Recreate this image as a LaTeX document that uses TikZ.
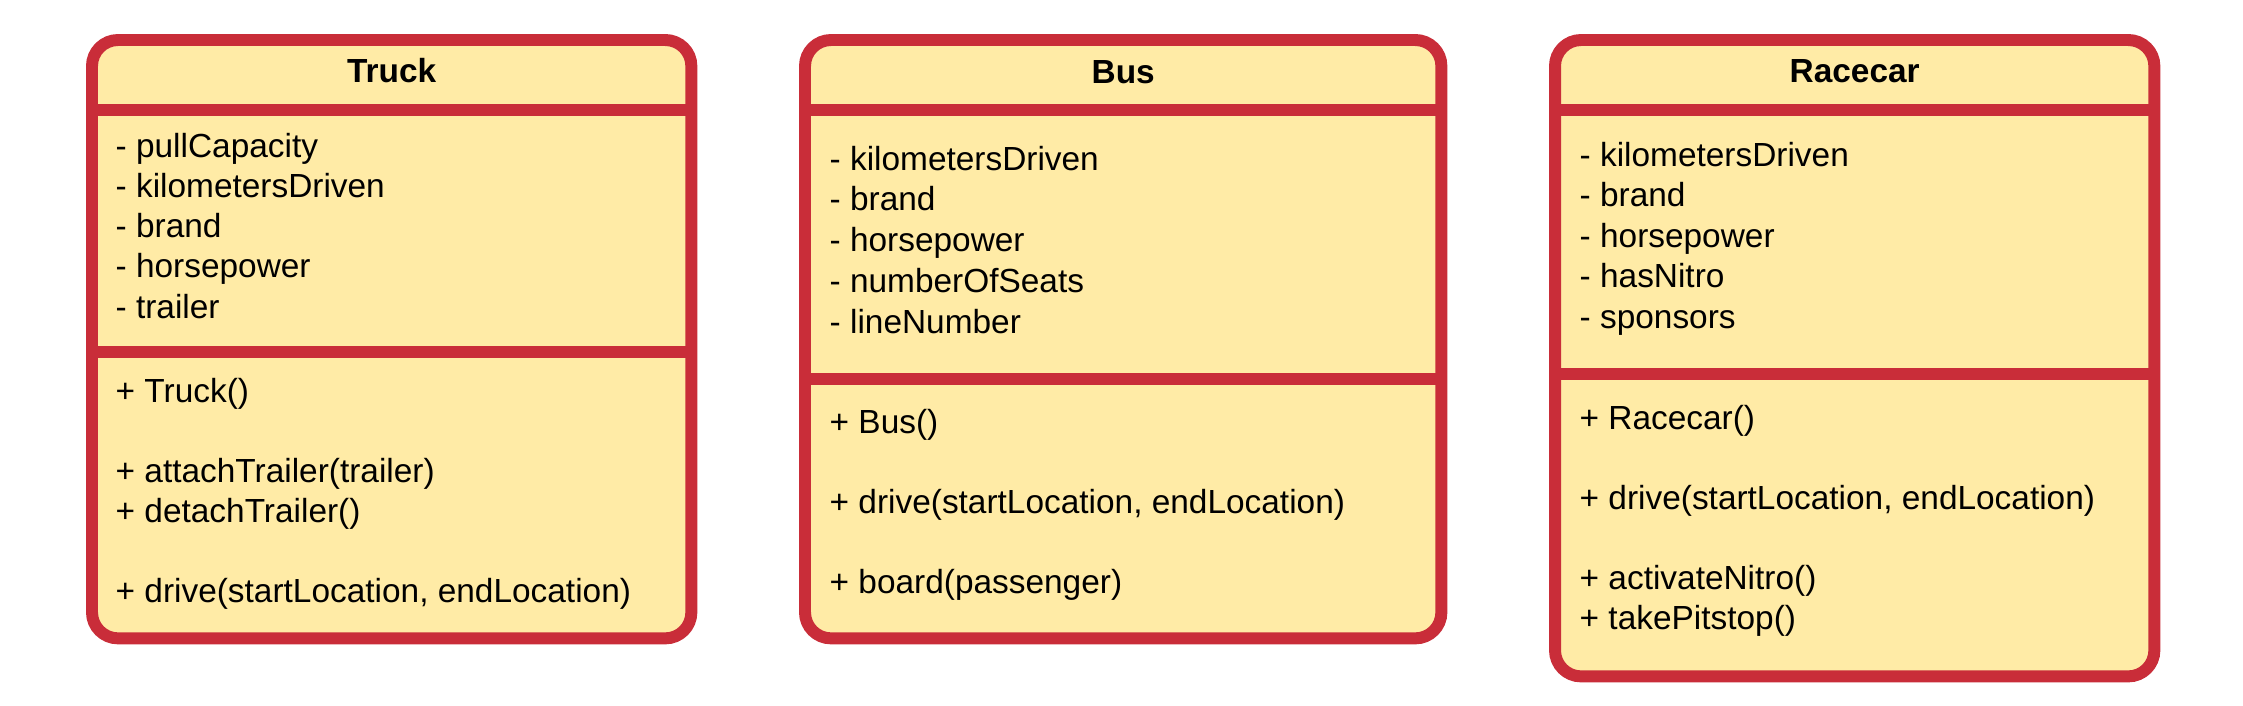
\documentclass[tikz,border=0pt]{standalone}
\usepackage{fontspec}
\setmainfont{Liberation Sans}
\definecolor{umlred}{RGB}{201,45,57}
\definecolor{umlfill}{RGB}{255,235,166}

\tikzset{
  classbox/.style={draw=umlred, fill=umlfill, line width=3.4pt, rounded corners=0.26cm, inner sep=0pt, outer sep=0pt, anchor=north west},
  divider/.style={draw=umlred, line width=3.4pt},
  classname/.style={anchor=base, inner sep=0pt, font=\bfseries\fontsize{9.5}{11.5}\selectfont},
  member/.style={anchor=base west, inner sep=0pt, font=\fontsize{9.5}{11.5}\selectfont},
}

\begin{document}
\begin{tikzpicture}[x=0.01cm, y=-0.01cm]
  \useasboundingbox (0,0) rectangle (2243,705);

  % Truck
  \node[classbox, minimum width=5.99cm, minimum height=5.98cm] (truck) at (92,40) {};
  \draw[divider] (truck.west |- 0,110) -- (truck.east |- 0,110);
  \draw[divider] (truck.west |- 0,352) -- (truck.east |- 0,352);
  \node[classname] (truckname) at (truck.north |- 0,82) {Truck};
  \foreach \txt [count=\i from 0] in {- pullCapacity, - kilometersDriven, - brand, - horsepower, - trailer}
    \node[member] (truckattr\i) at (115,157+40.3*\i) {\txt};
  \foreach \txt/\row in {+ Truck()/0, + attachTrailer(trailer)/2, + detachTrailer()/3, {+ drive(startLocation, endLocation)}/5}
    \node[member] (truckop\row) at (115,402+40.1*\row) {\txt};

  % Bus
  \node[classbox, minimum width=6.36cm, minimum height=5.98cm] (bus) at (805,40) {};
  \draw[divider] (bus.west |- 0,110) -- (bus.east |- 0,110);
  \draw[divider] (bus.west |- 0,379) -- (bus.east |- 0,379);
  \node[classname] (busname) at (bus.north |- 0,83) {Bus};
  \foreach \txt [count=\i from 0] in {- kilometersDriven, - brand, - horsepower, - numberOfSeats, - lineNumber}
    \node[member] (busattr\i) at (829,170+40.75*\i) {\txt};
  \foreach \txt/\row in {+ Bus()/0, {+ drive(startLocation, endLocation)}/2, + board(passenger)/4}
    \node[member] (busop\row) at (829,433+40*\row) {\txt};

  % Racecar
  \node[classbox, minimum width=5.99cm, minimum height=6.36cm] (racecar) at (1555,40) {};
  \draw[divider] (racecar.west |- 0,110) -- (racecar.east |- 0,110);
  \draw[divider] (racecar.west |- 0,374) -- (racecar.east |- 0,374);
  \node[classname] (racecarname) at (racecar.north |- 0,82) {Racecar};
  \foreach \txt [count=\i from 0] in {- kilometersDriven, - brand, - horsepower, - hasNitro, - sponsors}
    \node[member] (racecarattr\i) at (1579,166+40.5*\i) {\txt};
  \foreach \txt/\row in {+ Racecar()/0, {+ drive(startLocation, endLocation)}/2, + activateNitro()/4, + takePitstop()/5}
    \node[member] (racecarop\row) at (1579,429+40*\row) {\txt};
\end{tikzpicture}
\end{document}
